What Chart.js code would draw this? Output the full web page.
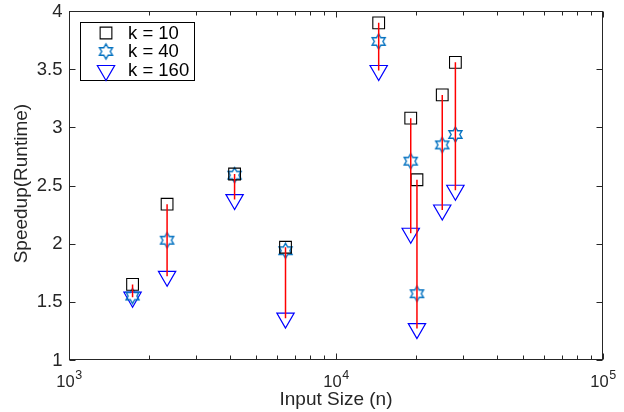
<!DOCTYPE html>
<html>
<head>
<meta charset="utf-8">
<script src="https://cdn.jsdelivr.net/npm/chart.js@4.4.1/dist/chart.umd.min.js"></script>
<style>
  html, body { margin: 0; padding: 0; background: #fff; }
  #wrap { width: 624px; height: 412px; }
</style>
</head>
<body>
<div id="wrap"><canvas id="speedupChart"></canvas></div>
<script>
// input sizes (n) and speedup per k
const inputSizes = [1730, 2330, 4170, 6470, 14450, 19050, 20100, 25000, 28000];
const speedupK10 = [1.65, 2.34, 2.60, 1.97, 3.90, 3.08, 2.55, 3.28, 3.56];
const speedupK40 = [1.55, 2.03, 2.59, 1.94, 3.74, 2.71, 1.57, 2.85, 2.94];
const speedupK160 = [1.54, 1.72, 2.38, 1.36, 3.49, 2.09, 1.27, 2.29, 2.46];
const seriesLabels = ["k = 10", "k = 40", "k = 160"];

const yTicks = [1, 1.5, 2, 2.5, 3, 3.5, 4];
const yTickLabels = ["1", "1.5", "2", "2.5", "3", "3.5", "4"];
const xDecades = [1000, 10000, 100000];
const xDecadeExponents = ["3", "4", "5"];
const xMinorTicks = [2000, 3000, 4000, 5000, 6000, 7000, 8000, 9000,
  20000, 30000, 40000, 50000, 60000, 70000, 80000, 90000];

const AXIS_COLOR = "#262626";
const FONT = '"Liberation Sans", Arial, Helvetica, sans-serif';
const STAR_COLOR = "#0070C0";
const TRI_COLOR = "#0000FF";

// six-pointed star outline, used as a point style
function hexagram(color, outer) {
  const size = Math.ceil(outer * 2 + 4);
  const c = document.createElement("canvas");
  c.width = size;
  c.height = size;
  const g = c.getContext("2d");
  const inner = outer / Math.sqrt(3);
  g.strokeStyle = color;
  g.lineWidth = 1.4;
  g.beginPath();
  for (let i = 0; i < 12; i++) {
    const a = -Math.PI / 2 + i * Math.PI / 6;
    const r = i % 2 === 0 ? outer : inner;
    const px = size / 2 + r * Math.cos(a);
    const py = size / 2 + r * Math.sin(a);
    if (i === 0) g.moveTo(px, py); else g.lineTo(px, py);
  }
  g.closePath();
  g.stroke();
  return c;
}
const starStyle = hexagram(STAR_COLOR, 7.5);

const toPoints = ys => inputSizes.map((n, i) => ({ x: n, y: ys[i] }));

// red drop lines from k = 10 down to k = 160, broken by null gaps
const dropLines = [];
inputSizes.forEach((n, i) => {
  dropLines.push({ x: n, y: speedupK10[i] });
  dropLines.push({ x: n, y: speedupK160[i] });
  dropLines.push({ x: n, y: null });
});

const axesFrame = {
  id: "axesFrame",
  afterDraw(chart) {
    const { ctx, chartArea: a, scales: { x, y } } = chart;
    const L = Math.round(a.left) + 0.5;
    const R = Math.round(a.right) - 0.5;
    const T = Math.round(a.top) + 0.5;
    const B = Math.round(a.bottom) - 0.5;

    ctx.save();
    ctx.strokeStyle = AXIS_COLOR;
    ctx.lineWidth = 1;
    ctx.strokeRect(L, T, R - L, B - T);

    ctx.beginPath();
    yTicks.forEach(v => {
      const py = Math.round(y.getPixelForValue(v)) + 0.5;
      ctx.moveTo(L, py); ctx.lineTo(L + 6, py);
      ctx.moveTo(R, py); ctx.lineTo(R - 6, py);
    });
    xDecades.forEach(v => {
      const px = Math.round(x.getPixelForValue(v)) + 0.5;
      ctx.moveTo(px, B); ctx.lineTo(px, B - 6);
      ctx.moveTo(px, T); ctx.lineTo(px, T + 6);
    });
    xMinorTicks.forEach(v => {
      const px = Math.round(x.getPixelForValue(v)) + 0.5;
      ctx.moveTo(px, B); ctx.lineTo(px, B - 4);
      ctx.moveTo(px, T); ctx.lineTo(px, T + 4);
    });
    ctx.stroke();

    // tick labels
    ctx.fillStyle = AXIS_COLOR;
    ctx.font = "18.5px " + FONT;
    ctx.textAlign = "right";
    ctx.textBaseline = "middle";
    yTicks.forEach((v, i) => {
      ctx.fillText(yTickLabels[i], L - 7, y.getPixelForValue(v) + 0.5);
    });

    ctx.textAlign = "left";
    ctx.textBaseline = "alphabetic";
    xDecades.forEach((v, i) => {
      const px = x.getPixelForValue(v);
      ctx.font = "16.5px " + FONT;
      const wBase = ctx.measureText("10").width;
      ctx.font = "12.5px " + FONT;
      const wExp = ctx.measureText(xDecadeExponents[i]).width;
      const x0 = px - (wBase + wExp) / 2;
      ctx.font = "16.5px " + FONT;
      ctx.fillText("10", x0, 387);
      ctx.font = "12.5px " + FONT;
      ctx.fillText(xDecadeExponents[i], x0 + wBase + 0.5, 379);
    });

    // axis titles
    ctx.font = "19px " + FONT;
    ctx.textAlign = "center";
    ctx.fillText("Input Size (n)", (a.left + a.right) / 2, 405);
    ctx.save();
    ctx.translate(27, (a.top + a.bottom) / 2 - 2);
    ctx.rotate(-Math.PI / 2);
    ctx.fillText("Speedup(Runtime)", 0, 0);
    ctx.restore();

    // legend box
    const lx = 80.5, ly = 22.5, lw = 114, lh = 58;
    ctx.fillStyle = "#fff";
    ctx.fillRect(lx, ly, lw, lh);
    ctx.strokeStyle = "#000";
    ctx.strokeRect(lx, ly, lw, lh);
    const rows = [33, 51.5, 70.5];
    chart.data.datasets.filter(d => d.inLegend).forEach((d, i) => {
      ctx.strokeStyle = d.borderColor;
      ctx.fillStyle = "rgba(0,0,0,0)";
      ctx.lineWidth = d.pointBorderWidth;
      Chart.helpers.drawPoint(ctx, {
        pointStyle: d.pointStyle,
        rotation: d.pointRotation || 0,
        radius: d.pointRadius,
        borderWidth: d.pointBorderWidth
      }, 106, rows[i]);
      ctx.fillStyle = "#000";
      ctx.font = "18.5px " + FONT;
      ctx.textAlign = "left";
      ctx.textBaseline = "middle";
      ctx.fillText(d.label, 128, rows[i] + 0.5);
    });
    ctx.restore();
  }
};

new Chart(document.getElementById("speedupChart"), {
  type: "scatter",
  data: {
    datasets: [
      {
        label: "drop",
        data: dropLines,
        showLine: true,
        spanGaps: false,
        borderColor: "#FF0000",
        borderWidth: 1.5,
        pointRadius: 0
      },
      {
        label: seriesLabels[0],
        inLegend: true,
        data: toPoints(speedupK10),
        pointStyle: "rect",
        pointRadius: 8.3,
        pointBorderWidth: 1.1,
        borderColor: "#000",
        backgroundColor: "rgba(0,0,0,0)"
      },
      {
        label: seriesLabels[1],
        inLegend: true,
        data: toPoints(speedupK40),
        pointStyle: starStyle,
        pointRadius: 7.5,
        pointBorderWidth: 1.2,
        borderColor: STAR_COLOR,
        backgroundColor: "rgba(0,0,0,0)"
      },
      {
        label: seriesLabels[2],
        inLegend: true,
        data: toPoints(speedupK160),
        pointStyle: "triangle",
        pointRotation: 180,
        pointRadius: 10,
        pointBorderWidth: 1.2,
        borderColor: TRI_COLOR,
        backgroundColor: "rgba(0,0,0,0)"
      }
    ]
  },
  options: {
    responsive: true,
    maintainAspectRatio: false,
    animation: false,
    events: [],
    layout: { padding: { left: 69, right: 21, top: 10, bottom: 52 } },
    plugins: {
      legend: { display: false },
      tooltip: { enabled: false }
    },
    scales: {
      x: { type: "logarithmic", min: 1000, max: 100000, display: false },
      y: { type: "linear", min: 1, max: 4, display: false }
    }
  },
  plugins: [axesFrame]
});
</script>
</body>
</html>
